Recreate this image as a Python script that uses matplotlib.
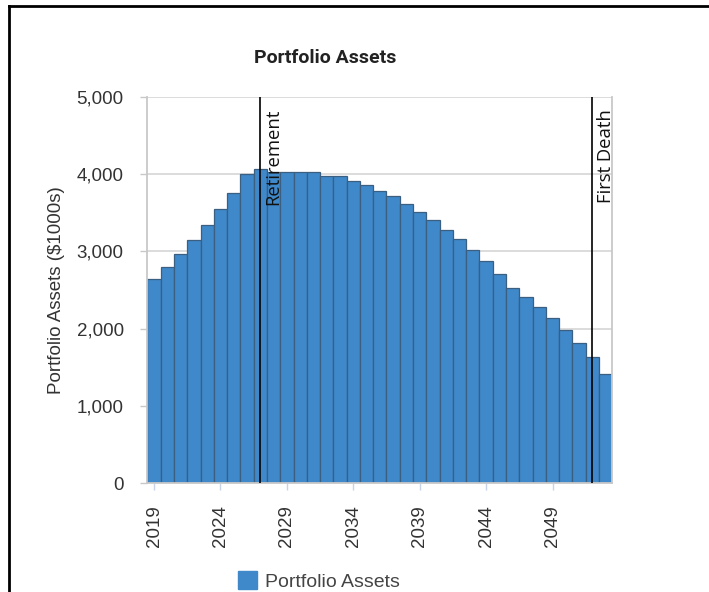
import matplotlib
matplotlib.use("Agg")
import matplotlib.pyplot as plt
from matplotlib.lines import Line2D
from matplotlib.patches import Patch
from matplotlib.ticker import FuncFormatter

# data
years = list(range(2019, 2054))
assets = [2640, 2795, 2960, 3145, 3345, 3550, 3750, 4000, 4060, 4025,
          4020, 4020, 4020, 3980, 3980, 3915, 3860, 3775, 3715, 3615,
          3510, 3405, 3280, 3160, 3020, 2875, 2710, 2525, 2405, 2275,
          2140, 1985, 1815, 1635, 1410]
event_years = [2027, 2052]
event_labels = ["Retirement", "First Death"]
tick_years = [2019, 2024, 2029, 2034, 2039, 2044, 2049]

plt.rcParams['font.family'] = ['Liberation Sans', 'DejaVu Sans']

W, H = 709, 592
fig = plt.figure(figsize=(W / 100, H / 100), dpi=100)
ax = fig.add_axes([147.4 / W, 1 - 483.3 / H, (612.3 - 147.4) / W, (483.3 - 96.7) / H])

ax.bar(years, assets, width=1.0, color="#3f88c9", edgecolor="#3b5f80",
       linewidth=0.9, zorder=2)

ax.set_xlim(2018.5, 2053.5)
ax.set_ylim(0, 5000)
ax.set_yticks([0, 1000, 2000, 3000, 4000, 5000])
ax.yaxis.set_major_formatter(FuncFormatter(lambda v, p: f"{int(v):,}"))
ax.set_xticks(tick_years)
ax.set_xticklabels([str(y) for y in tick_years], rotation=90)

ax.grid(axis="y", color="#d6d6d6", linewidth=1.2, zorder=0)
ax.set_axisbelow(True)
for s in ["left", "bottom", "right"]:
    ax.spines[s].set_color("#c8c8c8")
    ax.spines[s].set_linewidth(1.3)
ax.spines["top"].set_visible(False)

ax.tick_params(axis="y", length=5, width=1, color="#c8c8c8", pad=12,
               labelsize=13.5, labelcolor="#333333")
ax.tick_params(axis="x", length=5, width=1, color="#c6d4e6", pad=11,
               labelsize=13.5, labelcolor="#333333")

ax.set_ylabel("Portfolio Assets ($1000s)", fontsize=13.5, color="#333333")
ax.yaxis.set_label_coords((65 - 147.4) / (612.3 - 147.4), 0.5)

for yr, lab in zip(event_years, event_labels):
    ax.axvline(yr - 0.05, color="black", linewidth=1.2, zorder=3)
    ax.annotate(lab, xy=(yr - 0.05, 0.968), xycoords=("data", "axes fraction"),
                xytext=(3.5, 0), textcoords="offset points",
                rotation=90, ha="left", va="top", fontsize=13.3,
                family=["Open Sans", "DejaVu Sans"], color="#111111", zorder=4)

fig.text(325 / W, 1 - 58 / H, "Portfolio Assets", ha="center", va="center",
         fontsize=14, fontweight="bold",
         family=["Liberation Sans Narrow", "Roboto", "DejaVu Sans"], color="#222222")

fig.legend(handles=[Patch(facecolor="#3f88c9", edgecolor="#3f88c9")],
           labels=["Portfolio Assets"], loc="center left",
           bbox_to_anchor=(224 / W, 1 - 581 / H), frameon=False,
           fontsize=14, handlelength=1.0, handleheight=1.0,
           handletextpad=0.4, labelcolor="#444444", borderpad=0.2)

# frame around the chart
fig.add_artist(Line2D([8.5 / W, 1.0], [1 - 5.5 / H, 1 - 5.5 / H],
                      transform=fig.transFigure, color="black", linewidth=2))
fig.add_artist(Line2D([8.5 / W, 8.5 / W], [0.0, 1 - 5.5 / H],
                      transform=fig.transFigure, color="black", linewidth=2))

fig.savefig("out.png", dpi=100)
